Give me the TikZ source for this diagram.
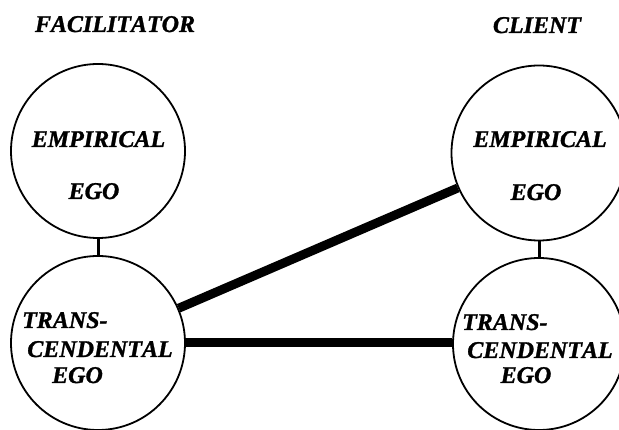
\documentclass[tikz,border=0pt]{standalone}
\usepackage{fontspec}
\setmainfont{Liberation Serif}[Kerning=Off, BoldItalicFeatures={FakeBold=1.2}]
\begin{document}
\begin{tikzpicture}[x=1pt,y=-1pt,
  ego/.style={draw, circle, line width=1.8pt, inner sep=0pt},
  lbl/.style={font=\fontsize{24}{24}\selectfont\bfseries\itshape, inner sep=0pt, anchor=base},
  lblw/.style={lbl, anchor=base west},
  thin link/.style={line width=3pt},
  thick link/.style={line width=9pt}]
\clip (0,0) rectangle (619,430);
\fill[white] (0,0) rectangle (619,430);
% circles
\node[ego, minimum size=174pt] (LT) at (98,151) {};
\node[ego, minimum size=174pt] (LB) at (98,343) {};
\node[ego, minimum size=175pt] (RT) at (539,153) {};
\node[ego, minimum size=172pt] (RB) at (539,344) {};
% connectors
\draw[thin link] (LT) -- (LB);
\draw[thin link] (RT) -- (RB);
\draw[thick link] (LB) -- (RT);
\draw[thick link] (LB.east |- 0,343) coordinate (h1) -- (RB.west |- 0,343) coordinate (h2);
% titles
\node[lbl] (tf) at (115,32) {FACILITATOR};
\node[lbl] (tc) at (537,33) {CLIENT};
% left top
\node[lbl] (lt1) at (98.5,147) {EMPIRICAL};
\node[lbl] (lt2) at (94,199) {EGO};
% right top
\node[lbl] (rt1) at (540,147) {EMPIRICAL};
\node[lbl] (rt2) at (536,200) {EGO};
% left bottom
\node[lblw] (lb1) at (22,328) {TRANS-};
\node[lbl] (lb2) at (100,357) {CENDENTAL};
\node[lbl] (lb3) at (77.5,383) {EGO};
% right bottom
\node[lblw] (rb1) at (462,330) {TRANS-};
\node[lbl] (rb2) at (540,358) {CENDENTAL};
\node[lbl] (rb3) at (526,383) {EGO};
\end{tikzpicture}
\end{document}
